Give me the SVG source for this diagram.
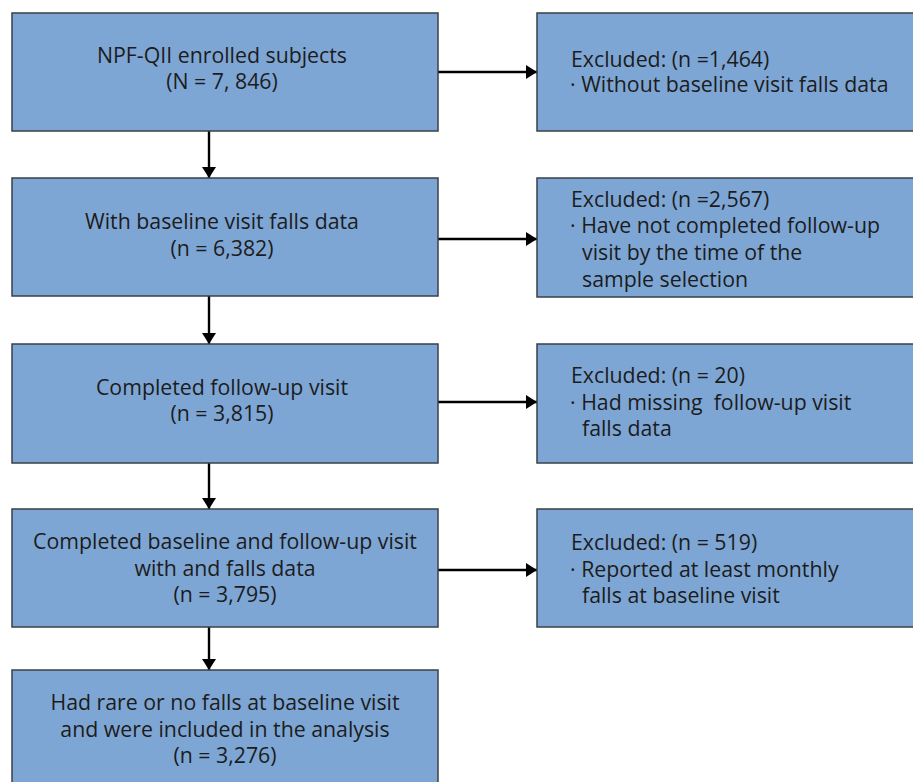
<svg xmlns="http://www.w3.org/2000/svg" width="913" height="782" viewBox="0 0 913 782">
<style>
.box{fill:#7ea6d5;stroke:#3a3f48;stroke-width:1.5}
text{font-family:"Open Sans","Noto Sans","Liberation Sans",sans-serif;font-size:21.3px;fill:#1c1c1c}
.c{text-anchor:middle}
.ln{stroke:#000;stroke-width:2.4;fill:none}
</style>
<defs>
<marker id="av" markerWidth="14" markerHeight="14" refX="11" refY="7" orient="auto" markerUnits="userSpaceOnUse" viewBox="0 0 14 14">
<path d="M0,0 L11,7 L0,14 z" fill="#000"/>
</marker>
</defs>
<rect width="913" height="782" fill="#fff"/>
<g id="connectors">
<line class="ln" x1="209" y1="131" x2="209" y2="178" marker-end="url(#av)"/>
<line class="ln" x1="209" y1="296" x2="209" y2="344" marker-end="url(#av)"/>
<line class="ln" x1="209" y1="463" x2="209" y2="509" marker-end="url(#av)"/>
<line class="ln" x1="209" y1="627" x2="209" y2="670" marker-end="url(#av)"/>
<line class="ln" x1="438" y1="72" x2="537" y2="72" marker-end="url(#av)"/>
<line class="ln" x1="438" y1="239" x2="537" y2="239" marker-end="url(#av)"/>
<line class="ln" x1="438" y1="402" x2="537" y2="402" marker-end="url(#av)"/>
<line class="ln" x1="438" y1="570" x2="537" y2="570" marker-end="url(#av)"/>
</g>
<g id="n1">
<rect class="box" x="12" y="13" width="426" height="118"/>
<text class="c"><tspan x="222" y="63">NPF-QII enrolled subjects</tspan><tspan x="222" y="89">(N = 7, 846)</tspan></text>
</g>
<g id="n2">
<rect class="box" x="12" y="178" width="426" height="118"/>
<text class="c"><tspan x="222" y="229">With baseline visit falls data</tspan><tspan x="222" y="256">(n = 6,382)</tspan></text>
</g>
<g id="n3">
<rect class="box" x="12" y="344" width="426" height="119"/>
<text class="c"><tspan x="222" y="395">Completed follow-up visit</tspan><tspan x="222" y="421">(n = 3,815)</tspan></text>
</g>
<g id="n4">
<rect class="box" x="12" y="509" width="426" height="118"/>
<text class="c"><tspan x="225" y="549">Completed baseline and follow-up visit</tspan><tspan x="225" y="576">with and falls data</tspan><tspan x="225" y="602">(n = 3,795)</tspan></text>
</g>
<g id="n5">
<rect class="box" x="12" y="670" width="426" height="125"/>
<text class="c"><tspan x="225" y="710">Had rare or no falls at baseline visit</tspan><tspan x="225" y="737">and were included in the analysis</tspan><tspan x="225" y="763">(n = 3,276)</tspan></text>
</g>
<g id="e1">
<rect class="box" x="537" y="13" width="390" height="118"/>
<text><tspan x="571" y="67">Excluded: (n =1,464)</tspan><tspan x="570" y="92">· Without baseline visit falls data</tspan></text>
</g>
<g id="e2">
<rect class="box" x="537" y="178" width="390" height="119"/>
<text><tspan x="571" y="207">Excluded: (n =2,567)</tspan><tspan x="570" y="233">· Have not completed follow-up</tspan><tspan x="582" y="260">visit by the time of the</tspan><tspan x="582" y="287">sample selection</tspan></text>
</g>
<g id="e3">
<rect class="box" x="537" y="344" width="390" height="119"/>
<text xml:space="preserve"><tspan x="571" y="383">Excluded: (n = 20)</tspan><tspan x="570" y="410">· Had missing  follow-up visit</tspan><tspan x="582" y="436">falls data</tspan></text>
</g>
<g id="e4">
<rect class="box" x="537" y="509" width="390" height="118"/>
<text><tspan x="571" y="550">Excluded: (n = 519)</tspan><tspan x="570" y="577">· Reported at least monthly</tspan><tspan x="582" y="603">falls at baseline visit</tspan></text>
</g>
</svg>
